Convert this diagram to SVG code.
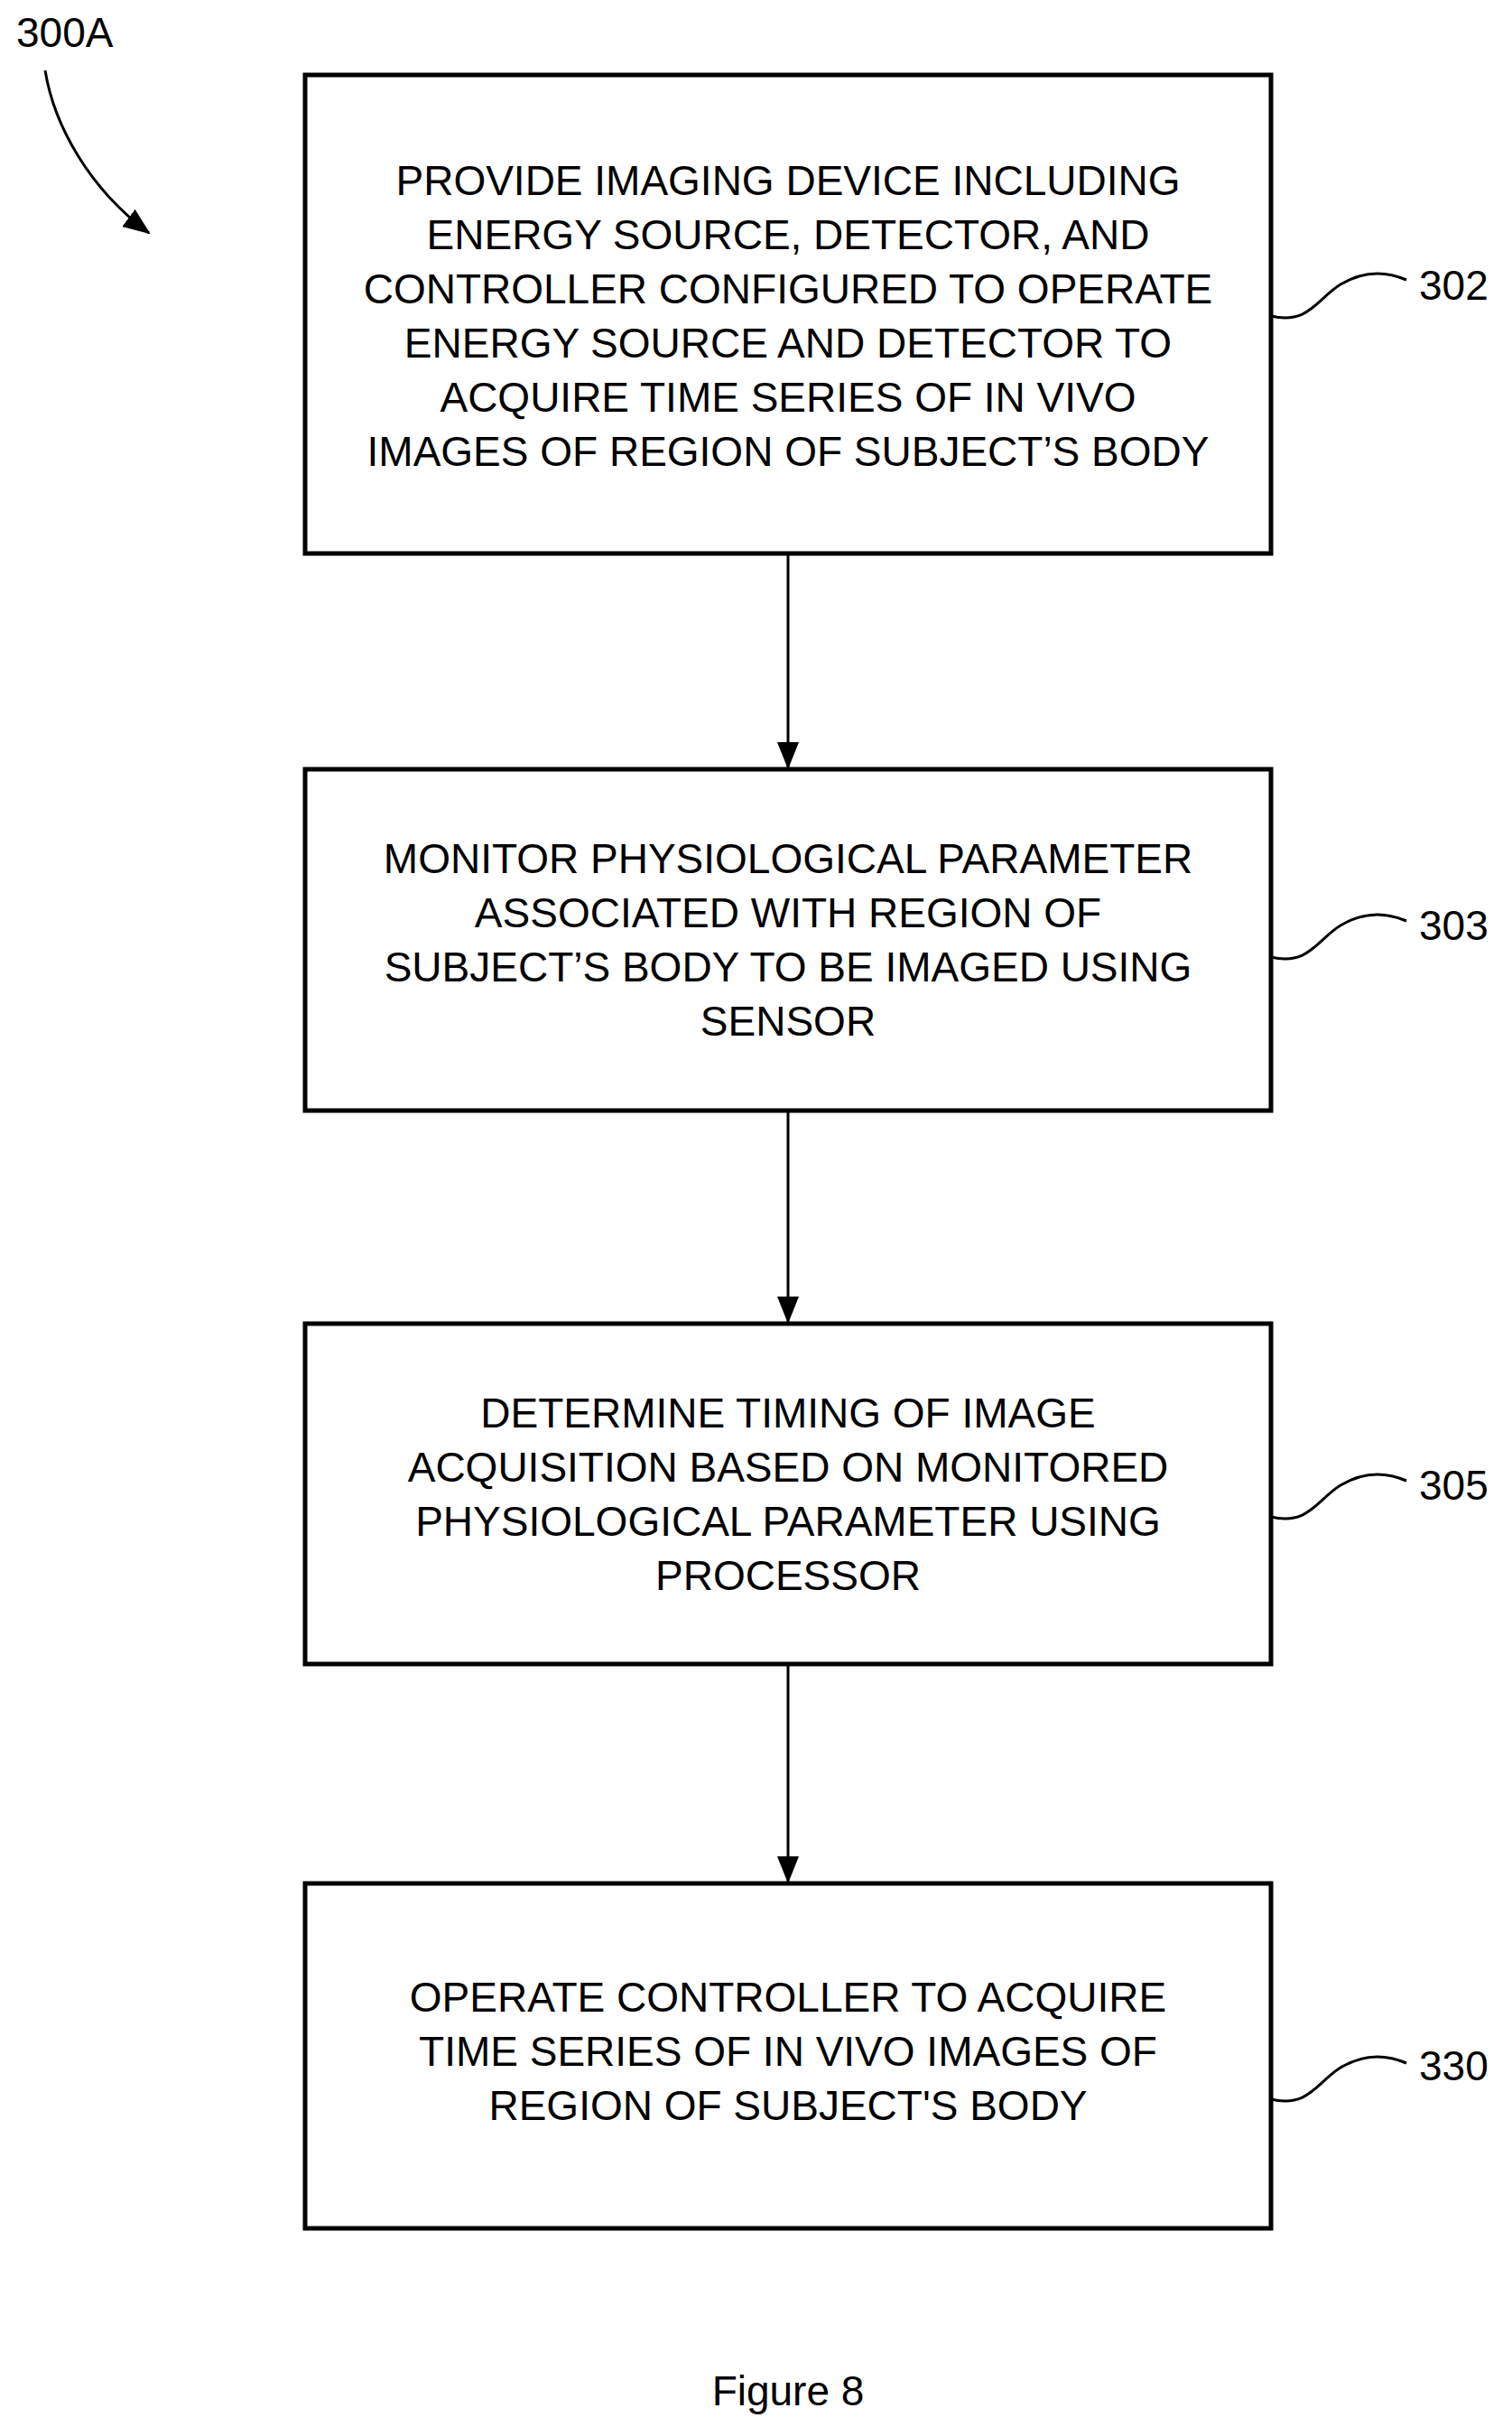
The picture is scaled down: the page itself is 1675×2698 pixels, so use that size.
<svg xmlns="http://www.w3.org/2000/svg" width="1675" height="2698" viewBox="0 0 1675 2698">
<style>
.box{fill:#fff;stroke:#000;stroke-width:5}
.t{font-family:"Liberation Sans",Arial,sans-serif;font-size:46px;fill:#000;text-anchor:middle}
.l{font-family:"Liberation Sans",Arial,sans-serif;font-size:46px;fill:#000}
.c{fill:none;stroke:#000;stroke-width:3}
</style>
<defs>
<marker id="ah" markerWidth="10" markerHeight="10" refX="9" refY="5" orient="auto" markerUnits="userSpaceOnUse" viewBox="0 0 10 10">
<path d="M0,0 L10,5 L0,10 Z" fill="#000"/>
</marker>
<marker id="ah2" markerWidth="30" markerHeight="30" refX="28" refY="15" orient="auto" markerUnits="userSpaceOnUse" viewBox="0 0 30 30">
<path d="M0,3 L30,15 L0,27 Z" fill="#000"/>
</marker>
</defs>
<g id="label300A">
<text class="l" x="18" y="52">300A</text>
<path class="c" d="M50,78 C60,140 100,210 165,258" marker-end="url(#ah2)"/>
</g>
<g id="n302">
<rect class="box" x="338" y="83" width="1070" height="530"/>
<text class="t" x="873" y="216">PROVIDE IMAGING DEVICE INCLUDING</text>
<text class="t" x="873" y="276">ENERGY SOURCE, DETECTOR, AND</text>
<text class="t" x="873" y="336">CONTROLLER CONFIGURED TO OPERATE</text>
<text class="t" x="873" y="396">ENERGY SOURCE AND DETECTOR TO</text>
<text class="t" x="873" y="456">ACQUIRE TIME SERIES OF IN VIVO</text>
<text class="t" x="873" y="516">IMAGES OF REGION OF SUBJECT’S BODY</text>
<text class="l" x="1572" y="332">302</text>
</g>
<g id="n303">
<rect class="box" x="338" y="852" width="1070" height="378"/>
<text class="t" x="873" y="967">MONITOR PHYSIOLOGICAL PARAMETER</text>
<text class="t" x="873" y="1027">ASSOCIATED WITH REGION OF</text>
<text class="t" x="873" y="1087">SUBJECT’S BODY TO BE IMAGED USING</text>
<text class="t" x="873" y="1147">SENSOR</text>
<text class="l" x="1572" y="1041">303</text>
</g>
<g id="n305">
<rect class="box" x="338" y="1466" width="1070" height="377"/>
<text class="t" x="873" y="1581">DETERMINE TIMING OF IMAGE</text>
<text class="t" x="873" y="1641">ACQUISITION BASED ON MONITORED</text>
<text class="t" x="873" y="1701">PHYSIOLOGICAL PARAMETER USING</text>
<text class="t" x="873" y="1761">PROCESSOR</text>
<text class="l" x="1572" y="1661">305</text>
</g>
<g id="n330">
<rect class="box" x="338" y="2086" width="1070" height="382"/>
<text class="t" x="873" y="2228">OPERATE CONTROLLER TO ACQUIRE</text>
<text class="t" x="873" y="2288">TIME SERIES OF IN VIVO IMAGES OF</text>
<text class="t" x="873" y="2348">REGION OF SUBJECT'S BODY</text>
<text class="l" x="1572" y="2304">330</text>
</g>
<g id="connectors">
<path class="c" d="M873,613 V850" marker-end="url(#ah2)"/>
<path class="c" d="M873,1230 V1464" marker-end="url(#ah2)"/>
<path class="c" d="M873,1843 V2084" marker-end="url(#ah2)"/>
<path class="c" d="M1408,350 C1450,360 1460,330 1485,315 C1510,300 1535,300 1558,310"/>
<path class="c" d="M1408,1060 C1450,1070 1460,1040 1485,1025 C1510,1010 1535,1010 1558,1020"/>
<path class="c" d="M1408,1680 C1450,1690 1460,1660 1485,1645 C1510,1630 1535,1630 1558,1640"/>
<path class="c" d="M1408,2325 C1450,2335 1460,2305 1485,2290 C1510,2275 1535,2275 1558,2285"/>
</g>
<text class="t" x="873" y="2664">Figure 8</text>
</svg>
